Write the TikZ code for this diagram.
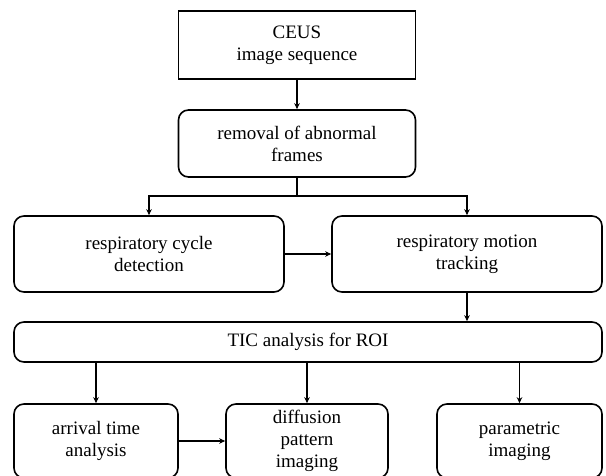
\documentclass[tikz,border=0pt]{standalone}
\usepackage{fontspec}
\setmainfont{Liberation Serif}
\usetikzlibrary{arrows.meta}

\begin{document}
\begin{tikzpicture}[x=1pt,y=-1pt,
    box/.style={draw,line width=1.6pt,align=center,inner sep=0pt,
        font=\fontsize{19}{22}\selectfont},
    rbox/.style={box,rounded corners=10pt},
    arr/.style={-{Stealth[length=6pt,width=5.5pt]},line width=1.2pt}]
\useasboundingbox (0,0) rectangle (606,476);

% Input sequence
\node[box,minimum width=237pt,minimum height=68pt] (ceus) at (297,45) {CEUS\\image sequence};
\node[rbox,minimum width=237pt,minimum height=67pt] (removal) at (297,143.5) {removal of abnormal\\frames};

% Respiratory processing
\node[rbox,minimum width=270pt,minimum height=76pt] (cycle) at (149,254) {respiratory cycle\\detection};
\node[rbox,minimum width=270pt,minimum height=76pt] (motion) at (467,254) {respiratory motion\\tracking};

% TIC analysis
\node[rbox,minimum width=588pt,minimum height=40pt] (tic) at (308,342) {TIC analysis for ROI};

% Outputs
\node[rbox,minimum width=164pt,minimum height=74pt] (arrival) at (96,441) {arrival time\\analysis};
\node[rbox,minimum width=162pt,minimum height=74pt] (diffusion) at (307,441) {diffusion\\pattern\\imaging};
\node[rbox,minimum width=165pt,minimum height=74pt] (parametric) at (519.5,441) {parametric\\imaging};

% Connections
\coordinate (split) at (297,196);
\draw[arr] (ceus) -- (removal);
\draw[line width=1.2pt] (removal.south) -- (split);
\draw[arr] (split) -| (cycle.north);
\draw[arr] (split) -| (motion.north);
\draw[arr] (cycle.east) -- (motion.west);
\draw[arr] (motion.south) -- (motion.south |- tic.north);
\foreach \n in {arrival,diffusion,parametric} {
    \draw[arr] (\n.north |- tic.south) -- (\n.north);
}
\draw[arr] (arrival.east) -- (diffusion.west);

\end{tikzpicture}
\end{document}
